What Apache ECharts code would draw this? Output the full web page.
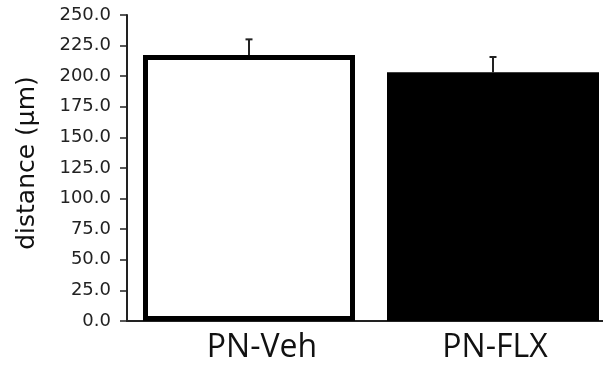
<!DOCTYPE html>
<html>
<head>
<meta charset="utf-8">
<script src="https://cdn.jsdelivr.net/npm/echarts@6/dist/echarts.min.js"></script>
<style>html,body{margin:0;padding:0;background:#fff;overflow:hidden;}#c{width:615px;height:366px;}</style>
</head>
<body>
<div id="c"></div>
<script>
var categories = ['PN-Veh', 'PN-FLX'];
var means = [217.3, 203.2];
var errors = [12.8, 12.5];
var fills = ['#ffffff', '#000000'];
var yTicks = {min: 0, max: 250, interval: 25};
var yName = 'distance (µm)';
var labelShift = [26, 4];

var chart = echarts.init(document.getElementById('c'), null, {renderer: 'canvas'});
chart.setOption({
  animation: false,
  backgroundColor: '#ffffff',
  grid: {left: 127, right: 0, top: 15, bottom: 45},
  xAxis: {
    type: 'category',
    data: categories.map(function (c, i) {
      return {value: c, textStyle: {padding: [0, 0, 0, labelShift[i]]}};
    }),
    axisLine: {lineStyle: {color: '#222', width: 2}},
    axisTick: {alignWithLabel: true, length: 4, lineStyle: {color: '#222', width: 1.5}},
    axisLabel: {color: '#111', fontFamily: 'Open Sans', fontSize: 32, margin: 11}
  },
  yAxis: {
    type: 'value',
    min: yTicks.min, max: yTicks.max, interval: yTicks.interval,
    name: yName,
    nameLocation: 'middle',
    nameGap: 87,
    nameRotate: 90,
    nameTextStyle: {color: '#111', fontFamily: 'DejaVu Sans', fontSize: 25, padding: [0, 0, 0, 10]},
    axisLine: {show: true, lineStyle: {color: '#222', width: 2}},
    axisTick: {show: true, length: 7, lineStyle: {color: '#222', width: 1.5}},
    splitLine: {show: false},
    axisLabel: {color: '#222', fontFamily: 'DejaVu Sans', fontSize: 18, margin: 16,
      formatter: function (v) { return v.toFixed(1); }}
  },
  series: [
    {
      type: 'bar',
      barWidth: 212,
      data: means.map(function (m, i) {
        return {value: m, itemStyle: {color: fills[i], borderColor: '#000', borderWidth: 5}};
      }),
      z: 2
    },
    {
      type: 'custom',
      z: 1,
      data: means.map(function (m, i) { return [i, m, m + errors[i]]; }),
      renderItem: function (params, api) {
        var base = api.coord([api.value(0), api.value(1)]);
        var top = api.coord([api.value(0), api.value(2)]);
        var x = base[0];
        return {
          type: 'group',
          children: [
            {type: 'line', shape: {x1: x, y1: base[1], x2: x, y2: top[1]}, style: {stroke: '#222', lineWidth: 2}},
            {type: 'line', shape: {x1: x - 3.5, y1: top[1], x2: x + 3.5, y2: top[1]}, style: {stroke: '#222', lineWidth: 2}}
          ]
        };
      }
    }
  ]
});
</script>
</body>
</html>
